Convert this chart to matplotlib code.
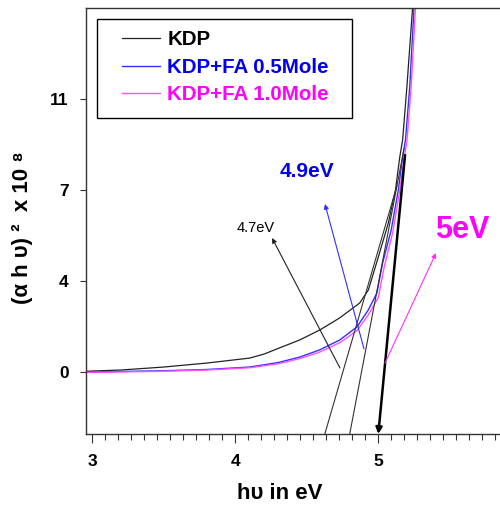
import numpy as np
import matplotlib.pyplot as plt
from matplotlib.patches import Rectangle
from matplotlib.ticker import MultipleLocator

plt.rcParams['font.family'] = ['Liberation Sans', 'DejaVu Sans']

# photon energy (eV) and (alpha h nu)^2 for each sample
hv_kdp = [2.96, 3.2, 3.5, 3.8, 4.1, 4.2, 4.3, 4.45, 4.59, 4.73, 4.87, 4.93, 5.0, 5.07, 5.12, 5.15, 5.17, 5.20, 5.24]
kdp = [0.03, 0.08, 0.2, 0.36, 0.56, 0.72, 0.95, 1.29, 1.69, 2.18, 2.78, 3.3, 4.63, 6.0, 7.33, 8.66, 9.35, 11.5, 14.7]

hv_fa05 = [2.96, 3.5, 3.8, 4.1, 4.3, 4.45, 4.59, 4.73, 4.85, 4.93, 4.99, 5.03, 5.09, 5.14, 5.17, 5.19, 5.22, 5.25]
fa05 = [0.0, 0.05, 0.1, 0.2, 0.38, 0.6, 0.89, 1.29, 1.81, 2.5, 3.18, 4.39, 5.72, 7.33, 8.66, 9.35, 11.5, 14.7]

hv_fa10 = [2.96, 3.5, 3.8, 4.1, 4.3, 4.45, 4.59, 4.73, 4.85, 4.93, 5.0, 5.04, 5.10, 5.15, 5.18, 5.20, 5.23, 5.26]
fa10 = [-0.02, 0.03, 0.08, 0.17, 0.33, 0.54, 0.8, 1.18, 1.66, 2.3, 3.0, 4.2, 5.6, 7.3, 8.6, 9.3, 11.5, 14.7]

# tangent lines extrapolated down to the energy axis
tan_a_x = [4.626, 5.13]
tan_a_y = [-2.5, 7.5]
tan_b_x = [4.80, 5.18]
tan_b_y = [-2.5, 9.0]
tan_c_x = [5.187, 5.0]
tan_c_y = [8.74, -2.5]

ytick_pos = [0, 11 / 3, 22 / 3, 11]
ytick_labels = ['0', '4', '7', '11']
xtick_pos = [3, 4, 5]

fig = plt.figure(figsize=(5.0, 5.09), dpi=100)
ax = fig.add_axes([0.172, 0.1473, 0.828, 0.837])

ax.plot(hv_kdp, kdp, color='#222222', lw=0.9, label='KDP')
ax.plot(hv_fa05, fa05, color='#3030ff', lw=1.0, label='KDP+FA 0.5Mole')
ax.plot(hv_fa10, fa10, color='#ff50ff', lw=1.0, label='KDP+FA 1.0Mole')

ax.plot(tan_a_x, tan_a_y, color='#333333', lw=0.8)
ax.plot(tan_b_x, tan_b_y, color='#333333', lw=0.8)
ax.annotate('', xy=(tan_c_x[1], tan_c_y[1]), xytext=(tan_c_x[0], tan_c_y[0]),
            arrowprops=dict(arrowstyle='-|>', color='black', lw=1.8, mutation_scale=9,
                            shrinkA=0, shrinkB=0))

# gap labels with pointers
ax.annotate('', xy=(4.257, 5.40), xytext=(4.732, 0.16),
            arrowprops=dict(arrowstyle='-|>', color='#222222', lw=0.8, mutation_scale=7,
                            shrinkA=0, shrinkB=0))
ax.text(4.146, 5.80, '4.7eV', fontsize=10.5, color='black', ha='center', va='center')

ax.annotate('', xy=(4.627, 6.77), xytext=(4.90, 0.93),
            arrowprops=dict(arrowstyle='-|>', color='#3030ff', lw=0.8, mutation_scale=7,
                            shrinkA=0, shrinkB=0))
ax.text(4.50, 8.10, '4.9eV', fontsize=15, fontweight='bold', color='#0000ee',
        ha='center', va='center')

ax.annotate('', xy=(5.403, 4.79), xytext=(5.047, 0.36),
            arrowprops=dict(arrowstyle='-|>', color='#ff30ff', lw=0.8, mutation_scale=7,
                            shrinkA=0, shrinkB=0))
ax.text(5.59, 5.72, '5eV', fontsize=22, fontweight='bold', color='#ff00ff',
        ha='center', va='center')

ax.set_xlim(2.956, 5.851)
ax.set_ylim(-2.5, 14.67)

ax.set_xticks(xtick_pos)
ax.xaxis.set_minor_locator(MultipleLocator(1 / 11))
ax.set_yticks(ytick_pos)
ax.set_yticklabels(ytick_labels)
for lab in ax.get_xticklabels() + ax.get_yticklabels():
    lab.set_fontweight('bold')
ax.tick_params(axis='x', which='major', direction='out', length=6.5, width=0.8,
               pad=8, labelsize=12.5, color='#333333')
ax.tick_params(axis='x', which='minor', direction='out', length=4.3, width=0.8,
               color='#333333')
ax.tick_params(axis='y', which='major', direction='out', length=4.5, width=0.8,
               pad=8, labelsize=12.5, color='#333333')

ax.spines['right'].set_visible(False)
for s in ['left', 'top', 'bottom']:
    ax.spines[s].set_color('#333333')
    ax.spines[s].set_linewidth(1.0)

ax.set_xlabel('h\u03c5 in eV', fontsize=16, fontweight='bold')
ax.xaxis.set_label_coords(0.469, -0.115)
ax.set_ylabel('(\u03b1 h \u03c5) \u00b2  x 10 \u2078', fontsize=16, fontweight='bold')
ax.yaxis.set_label_coords(-0.128, 0.484)

# legend entries without frame, box drawn separately
leg = ax.legend(loc='upper left', bbox_to_anchor=(0.087, 0.948),
                prop={'weight': 'bold', 'size': 14.8},
                labelcolor=['black', '#0000ee', '#ff00ff'], frameon=False,
                borderaxespad=0, borderpad=0, labelspacing=0.42,
                handlelength=1.85, handletextpad=0.35)
ax.add_patch(Rectangle((0.0266, 0.742), 0.616, 0.232, transform=ax.transAxes,
                       fill=False, edgecolor='black', lw=1.0, zorder=5))

fig.savefig('out.png', dpi=100)
